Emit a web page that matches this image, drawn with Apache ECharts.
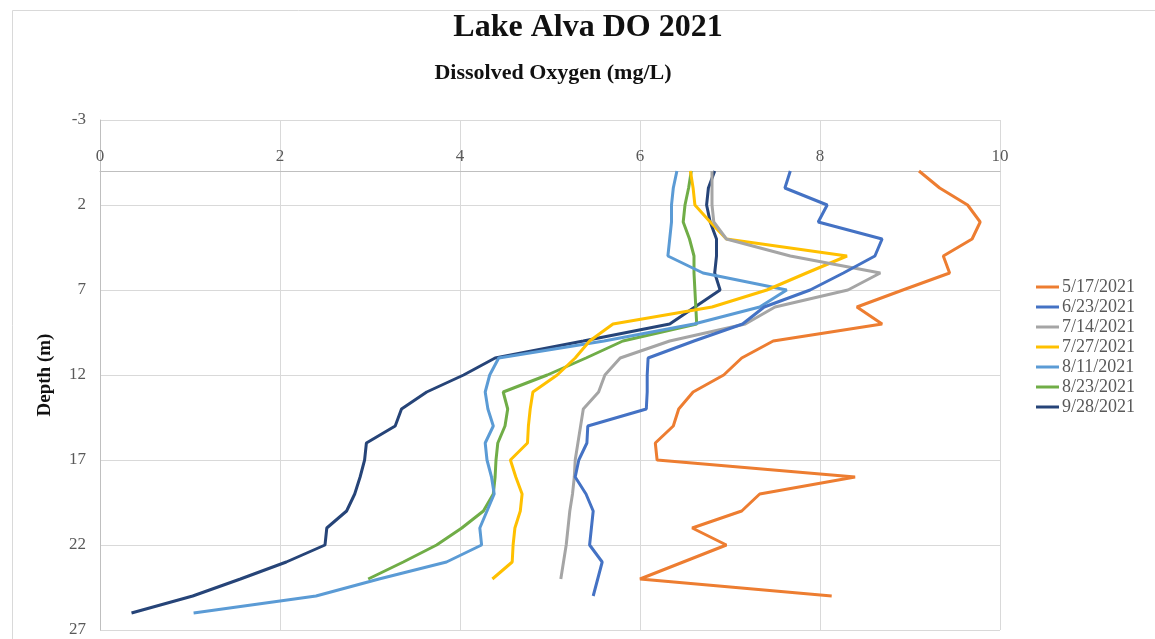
<!DOCTYPE html>
<html>
<head>
<meta charset="utf-8">
<script src="https://cdn.jsdelivr.net/npm/echarts@6/dist/echarts.min.js"></script>
<style>
html,body{margin:0;padding:0;background:#fff;}
#chart{width:1155px;height:639px;}
</style>
</head>
<body>
<div id="chart"></div>
<script>
// Depth (m) for each measurement row
const depths = [0,1,2,3,4,5,6,7,8,9,10,11,12,13,14,15,16,17,18,19,20,21,22,23,24,25,26];
const seriesNames = ['5/17/2021','6/23/2021','7/14/2021','7/27/2021','8/11/2021','8/23/2021','9/28/2021'];
const xTicks = [0,2,4,6,8,10];
const yTicks = [-3,2,7,12,17,22,27];

// Dissolved oxygen (mg/L), one value per depth starting at 0 m
const do_0517 = [9.10,9.33,9.64,9.78,9.69,9.37,9.44,8.92,8.41,8.69,7.48,7.13,6.93,6.59,6.43,6.37,6.17,6.19,8.39,7.33,7.13,6.58,6.96,6.48,6.00,8.13];
const do_0623 = [7.67,7.61,8.08,7.98,8.69,8.61,8.26,7.89,7.38,7.14,6.60,6.09,6.08,6.08,6.07,5.42,5.41,5.32,5.28,5.40,5.48,5.46,5.44,5.58,5.53,5.48];
const do_0714 = [6.80,6.80,6.80,6.82,6.96,7.67,8.67,8.31,7.50,7.17,6.33,5.78,5.61,5.54,5.37,5.34,5.31,5.28,5.27,5.25,5.22,5.20,5.18,5.15,5.12];
const do_0727 = [6.56,6.59,6.61,6.78,6.96,8.30,7.85,7.41,6.80,5.70,5.44,5.28,5.08,4.81,4.78,4.76,4.75,4.56,4.62,4.69,4.67,4.61,4.59,4.58,4.36];
const do_0811 = [6.41,6.37,6.35,6.35,6.33,6.31,6.70,7.63,7.33,6.60,5.60,4.43,4.33,4.28,4.31,4.37,4.28,4.30,4.35,4.38,4.30,4.22,4.24,3.85,3.10,2.40,1.04];
const do_0823 = [6.57,6.54,6.50,6.48,6.55,6.60,6.60,6.61,6.62,6.63,5.81,5.40,4.97,4.48,4.53,4.50,4.42,4.40,4.39,4.37,4.26,4.02,3.74,3.37,2.98];
const do_0928 = [6.83,6.76,6.74,6.78,6.85,6.85,6.83,6.89,6.61,6.33,5.37,4.39,4.04,3.63,3.35,3.28,2.96,2.94,2.89,2.83,2.74,2.52,2.50,2.07,1.56,1.03,0.35];

const allValues = [do_0517,do_0623,do_0714,do_0727,do_0811,do_0823,do_0928];
const colors = ['#ED7D31','#4472C4','#A5A5A5','#FFC000','#5B9BD5','#70AD47','#264478'];

const SERIF = '"Liberation Serif","Times New Roman",serif';

const chart = echarts.init(document.getElementById('chart'), null, {renderer:'canvas'});

const series = allValues.map((vals, i) => ({
  name: seriesNames[i],
  type: 'line',
  data: vals.map((v, k) => [v, depths[k]]),
  symbol: 'none',
  showSymbol: false,
  smooth: false,
  lineStyle: {width: 3, color: colors[i]},
  itemStyle: {color: colors[i]},
  z: 10 - i
}));

const option = {
  animation: false,
  backgroundColor: '#ffffff',
  color: colors,
  graphic: [
    {type:'rect', shape:{x:12.5, y:10.5, width:1160, height:660}, style:{fill:'none', stroke:'#d9d9d9', lineWidth:1}, silent:true},
    {type:'text', x:588, y:28, style:{text:'Lake Alva DO 2021', font:'bold 32px ' + SERIF, fill:'#111111', textAlign:'center', textVerticalAlign:'middle'}},
    {type:'text', x:553, y:73, style:{text:'Dissolved Oxygen (mg/L)', font:'bold 22px ' + SERIF, fill:'#111111', textAlign:'center', textVerticalAlign:'middle'}}
  ],
  grid: {left:100, top:120, width:900, height:510, containLabel:false},
  legend: {
    orient:'vertical',
    left:1031, top:273,
    icon:'rect',
    itemWidth:23, itemHeight:3, itemGap:2,
    textStyle:{fontFamily:SERIF, fontSize:18, lineHeight:18, color:'#595959', padding:[0,0,0,-2]},
    data: seriesNames
  },
  xAxis: {
    type:'value', position:'top', min:0, max:10, interval:2,
    axisLine:{show:true, onZero:true, lineStyle:{color:'#bfbfbf', width:1}},
    axisTick:{show:false},
    axisLabel:{fontFamily:SERIF, fontSize:17, color:'#595959', margin:-45,
      formatter: v => xTicks.includes(v) ? String(v) : ''},
    splitLine:{show:true, lineStyle:{color:'#d9d9d9', width:1}}
  },
  yAxis: {
    type:'value', inverse:true, min:-3, max:27, interval:5,
    name:'Depth (m)', nameLocation:'middle', nameGap:45,
    nameTextStyle:{fontFamily:SERIF, fontSize:19, fontWeight:'bold', color:'#111111'},
    axisLine:{show:true, onZero:false, lineStyle:{color:'#bfbfbf', width:1}},
    axisTick:{show:false},
    axisLabel:{fontFamily:SERIF, fontSize:17, color:'#595959', margin:14,
      formatter: v => yTicks.includes(v) ? String(v) : ''},
    splitLine:{show:true, lineStyle:{color:'#d9d9d9', width:1}}
  },
  series: series
};

chart.setOption(option);
</script>
</body>
</html>
